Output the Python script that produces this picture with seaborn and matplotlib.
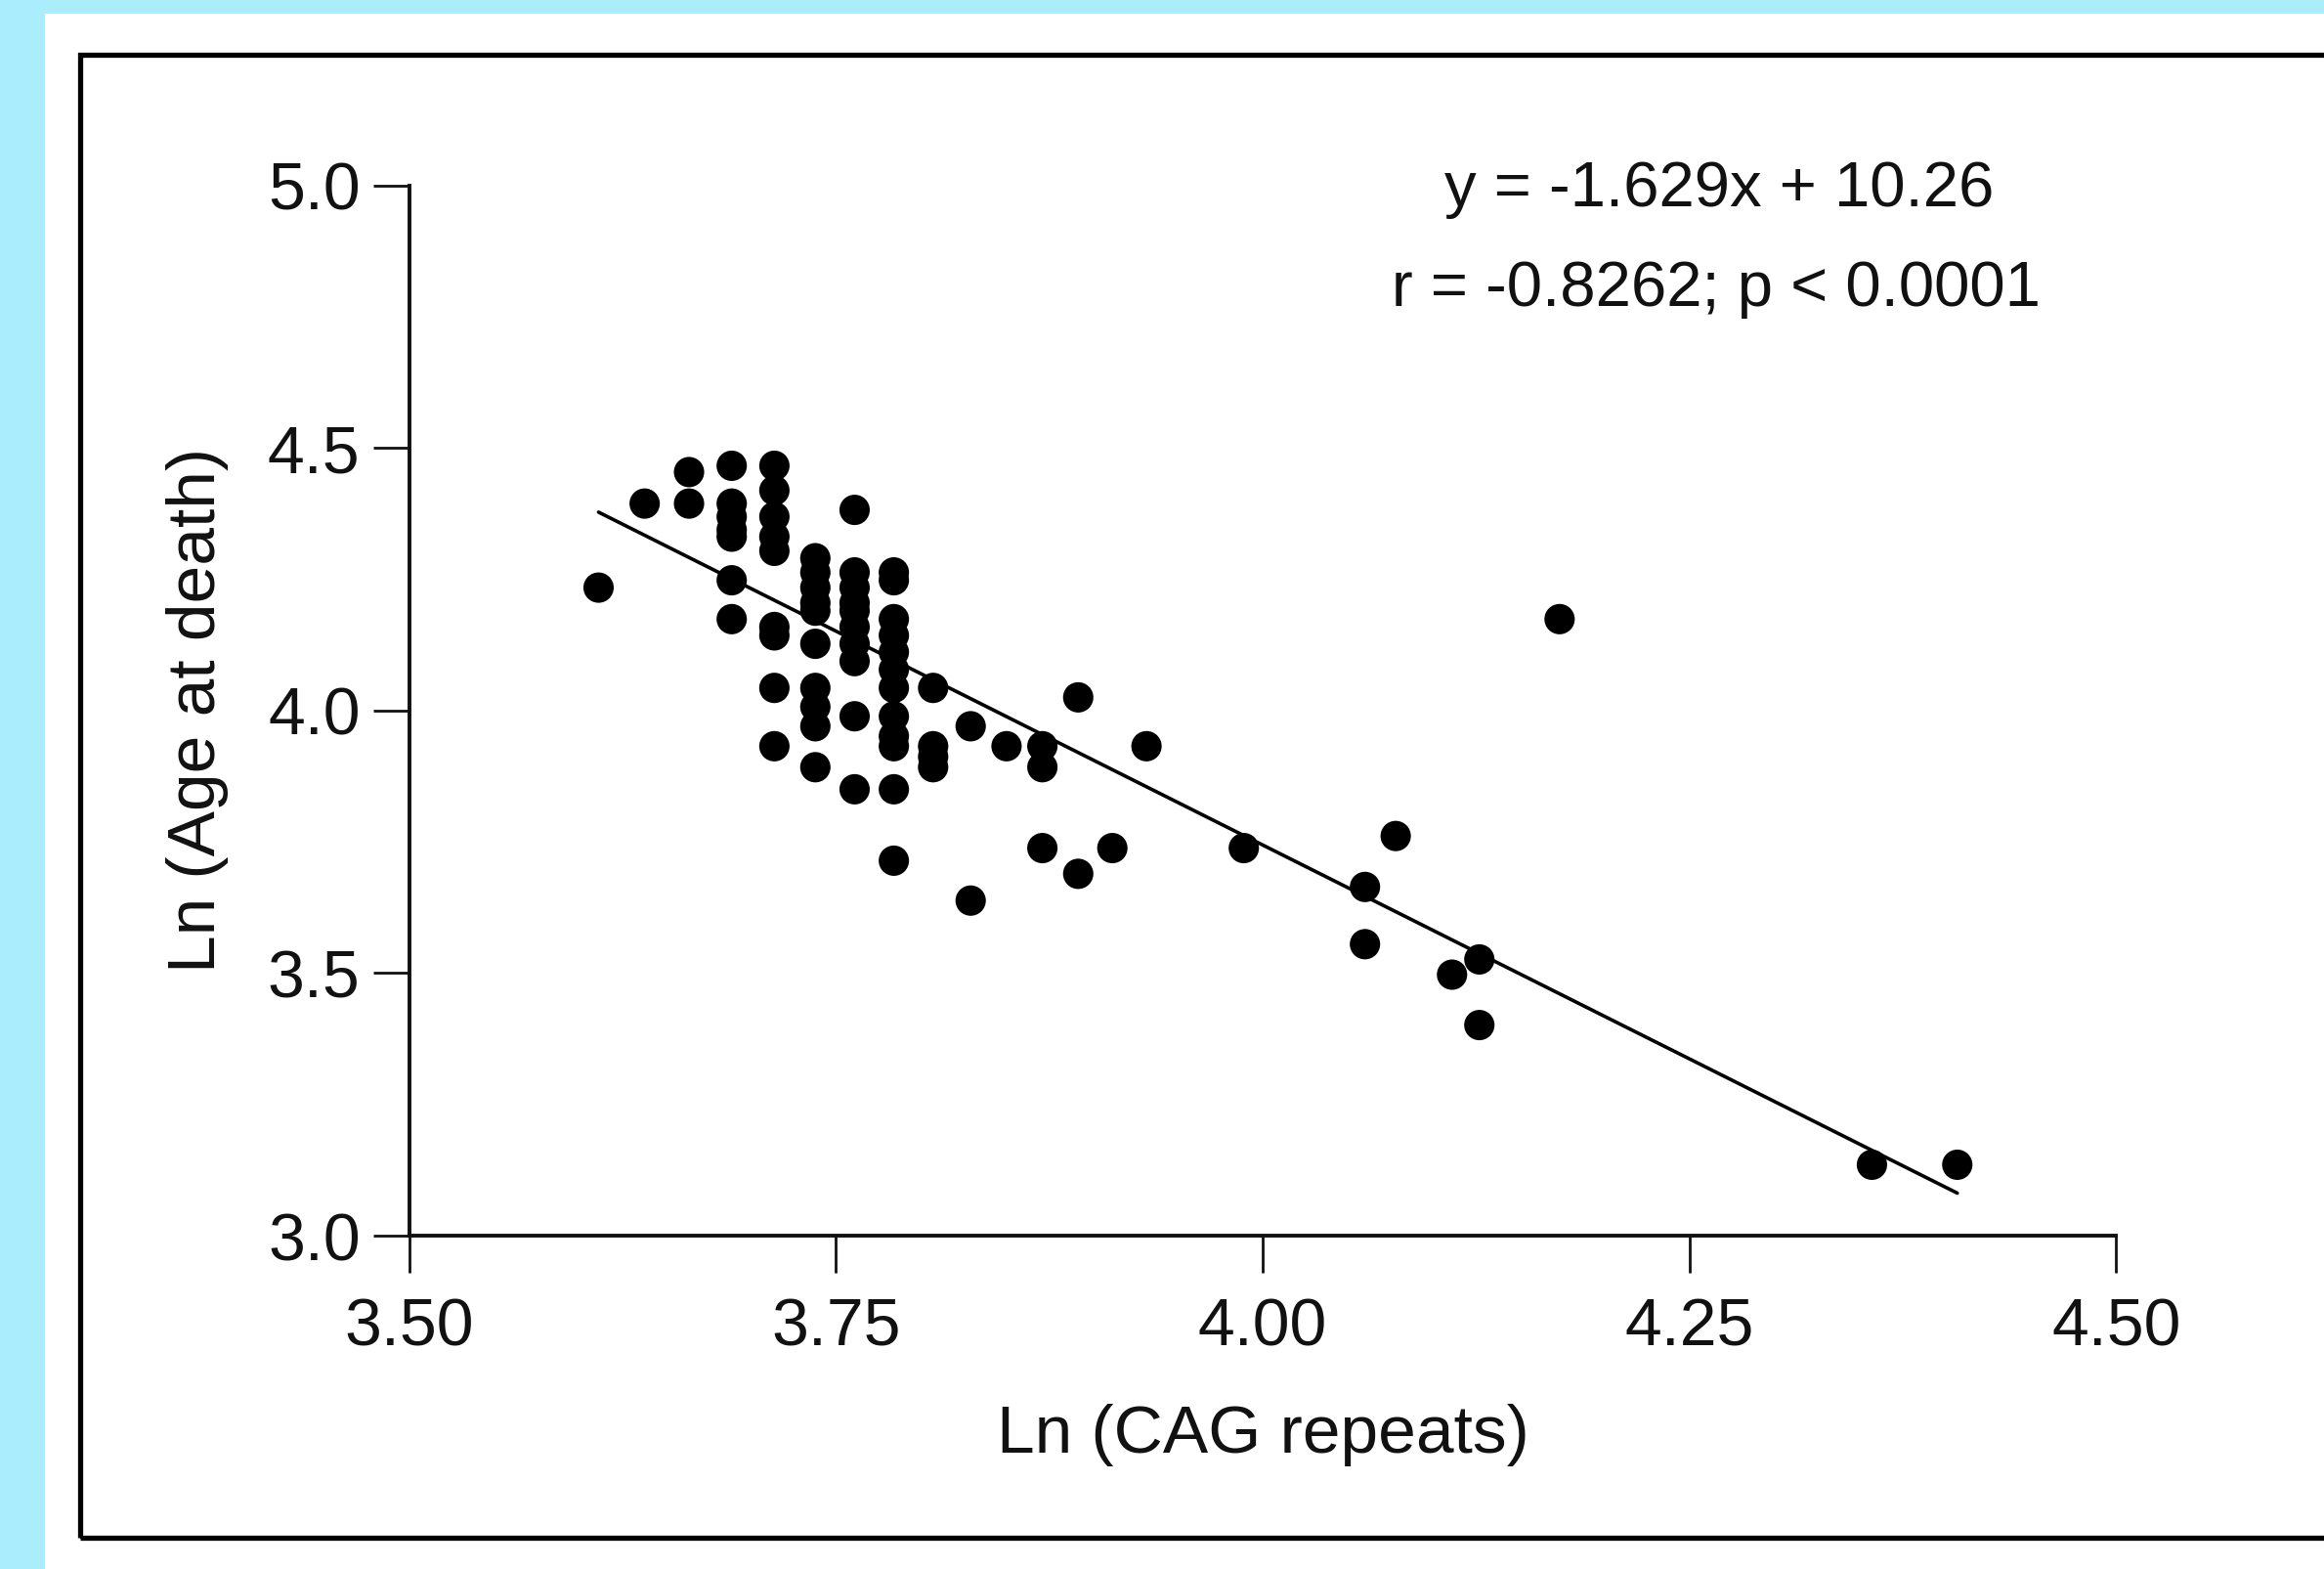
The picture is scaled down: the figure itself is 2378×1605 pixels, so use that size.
import numpy as np
import pandas as pd
import matplotlib
matplotlib.use("Agg")
import matplotlib.pyplot as plt
from matplotlib.patches import Rectangle
import seaborn as sns

# values (natural log of CAG repeats / age at death)
ln_cag = [
    3.611,
    3.638,
    3.664, 3.664,
    3.689, 3.689, 3.689, 3.689, 3.689, 3.689, 3.689,
    3.714, 3.714, 3.714, 3.714, 3.714, 3.714, 3.714, 3.714, 3.714,
    3.738, 3.738, 3.738, 3.738, 3.738, 3.738, 3.738, 3.738, 3.738, 3.738,
    3.761, 3.761, 3.761, 3.761, 3.761, 3.761, 3.761, 3.761, 3.761, 3.761,
    3.784, 3.784, 3.784, 3.784, 3.784, 3.784, 3.784, 3.784, 3.784, 3.784, 3.784, 3.784,
    3.807, 3.807, 3.807, 3.807,
    3.829, 3.829,
    3.850,
    3.871, 3.871, 3.871,
    3.892, 3.892,
    3.912,
    3.932,
    3.989,
    4.060, 4.060,
    4.078,
    4.111,
    4.127, 4.127,
    4.174,
    4.357,
    4.407,
]
ln_age = [
    4.234,
    4.394,
    4.454, 4.394,
    4.466, 4.394, 4.369, 4.344, 4.331, 4.248, 4.174,
    4.466, 4.419, 4.369, 4.331, 4.304, 4.159, 4.143, 4.043, 3.932,
    4.290, 4.263, 4.234, 4.205, 4.190, 4.127, 4.043, 4.007, 3.970, 3.892,
    4.382, 4.263, 4.234, 4.205, 4.190, 4.159, 4.127, 4.094, 3.989, 3.850,
    4.263, 4.248, 4.174, 4.143, 4.111, 4.078, 4.043, 3.989, 3.951, 3.932, 3.850, 3.714,
    4.043, 3.932, 3.912, 3.892,
    3.970, 3.638,
    3.932,
    3.932, 3.892, 3.738,
    4.025, 3.689,
    3.738,
    3.932,
    3.738,
    3.664, 3.555,
    3.761,
    3.497,
    3.526, 3.401,
    4.174,
    3.135,
    3.135,
]

slope = -1.629
intercept = 10.26
eq_text = "y = -1.629x + 10.26"
stat_text = "r = -0.8262; p < 0.0001"

x_ticks = [3.50, 3.75, 4.00, 4.25, 4.50]
x_tick_labels = ["3.50", "3.75", "4.00", "4.25", "4.50"]
y_ticks = [3.0, 3.5, 4.0, 4.5, 5.0]
y_tick_labels = ["3.0", "3.5", "4.0", "4.5", "5.0"]

df = pd.DataFrame({"ln_cag": ln_cag, "ln_age": ln_age})
fit_x = np.array([df["ln_cag"].min(), df["ln_cag"].max()])
fit = pd.DataFrame({"x": fit_x, "y": slope * fit_x + intercept})

sns.set_theme(style="ticks")
plt.rcParams["font.family"] = ["Liberation Sans", "DejaVu Sans"]

W, H = 2378, 1605
fig = plt.figure(figsize=(W / 100, H / 100), dpi=100)
fig.patch.set_facecolor("#aaeefd")
# white page and black frame behind the chart
fig.add_artist(Rectangle((46 / W, 0), 1, 1 - 14 / H, facecolor="white",
                         edgecolor="none", transform=fig.transFigure, zorder=-2))
fig.add_artist(Rectangle((82 / W, 1 - 1573 / H), 1.0, (1573 - 56) / H, fill=False,
                         edgecolor="black", lw=3.8, transform=fig.transFigure, zorder=-1))

ax = fig.add_axes([418.6 / W, 1 - 1264 / H, 1746.6 / W, 1074.4 / H])
ax.set_facecolor("white")

sns.lineplot(data=fit, x="x", y="y", color="black", lw=2.6, ax=ax)
sns.scatterplot(data=df, x="ln_cag", y="ln_age", color="black", s=500,
                edgecolor="none", ax=ax, zorder=3)

ax.set_xlim(3.5, 4.5)
ax.set_ylim(3.0, 5.0)
ax.set_xticks(x_ticks, x_tick_labels)
ax.set_yticks(y_ticks, y_tick_labels)
sns.despine(ax=ax)
for side in ["left", "bottom"]:
    ax.spines[side].set_linewidth(2.8)
    ax.spines[side].set_color("#111111")
ax.tick_params(axis="both", length=27, width=2.0, color="#111111",
               labelsize=49, labelcolor="#111111")
ax.tick_params(axis="x", pad=18)
ax.tick_params(axis="y", pad=9)

ax.set_xlabel("Ln (CAG repeats)", fontsize=50, color="#111111")
ax.set_ylabel("Ln (Age at death)", fontsize=50, color="#111111")
ax.xaxis.label.set_va("center")
ax.yaxis.label.set_va("center")
ax.xaxis.set_label_coords(0.5, -0.19)
ax.yaxis.set_label_coords(-0.124, 0.5)

ax.text(0.7674, 0.9959, eq_text, transform=ax.transAxes, ha="center",
        va="center", fontsize=47, color="#111111")
ax.text(0.7659, 0.9008, stat_text, transform=ax.transAxes, ha="center",
        va="center", fontsize=47, color="#111111")

fig.savefig("out.png", dpi=100)
